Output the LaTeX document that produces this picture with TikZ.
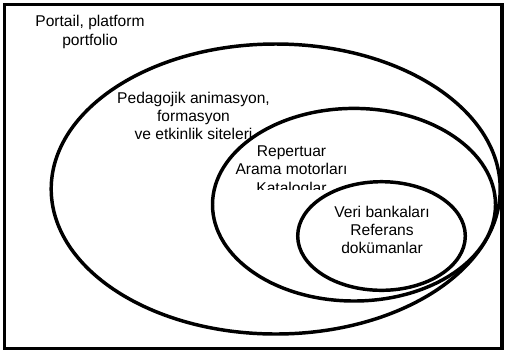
\documentclass[tikz,border=0pt]{standalone}
\usepackage{fontspec}
\setmainfont{Liberation Sans}

\tikzset{
  zone/.style={draw,line width=2.6pt,fill=white},
  zonetext/.style={align=center,inner sep=0pt,font=\fontsize{11.7}{13.8}\selectfont}
}

\begin{document}
\begin{tikzpicture}[x=0.75pt,y=-0.75pt]

        \useasboundingbox (0,0) rectangle (505,351);
        \draw[line width=2.3pt] (4.5,4.5) rectangle (502,348.5);

        \begin{scope}[every node/.style={zonetext}]
          \node (portail) at (90,32) {Portail, platform\\portfolio};

          \path[zone] (275.7,189) ellipse (224.5 and 145);
          \node (pedagojik) at (193.5,116) {Pedagojik animasyon,\\formasyon\\ve etkinlik siteleri};

          \path[zone] (354,204.7) ellipse (141.5 and 96.3);
          \begin{scope}
            \clip (225,135) rectangle (360,189.5);
            \node (repertuar) at (291.5,171) {Repertuar\\Arama motorları\\Kataloglar};
          \end{scope}

          \path[zone] (381.5,236) ellipse (83.8 and 54.3);
          \node (veri) at (382,230) {Veri bankaları\\Referans\\dokümanlar};
        \end{scope}

      \end{tikzpicture}
\end{document}
